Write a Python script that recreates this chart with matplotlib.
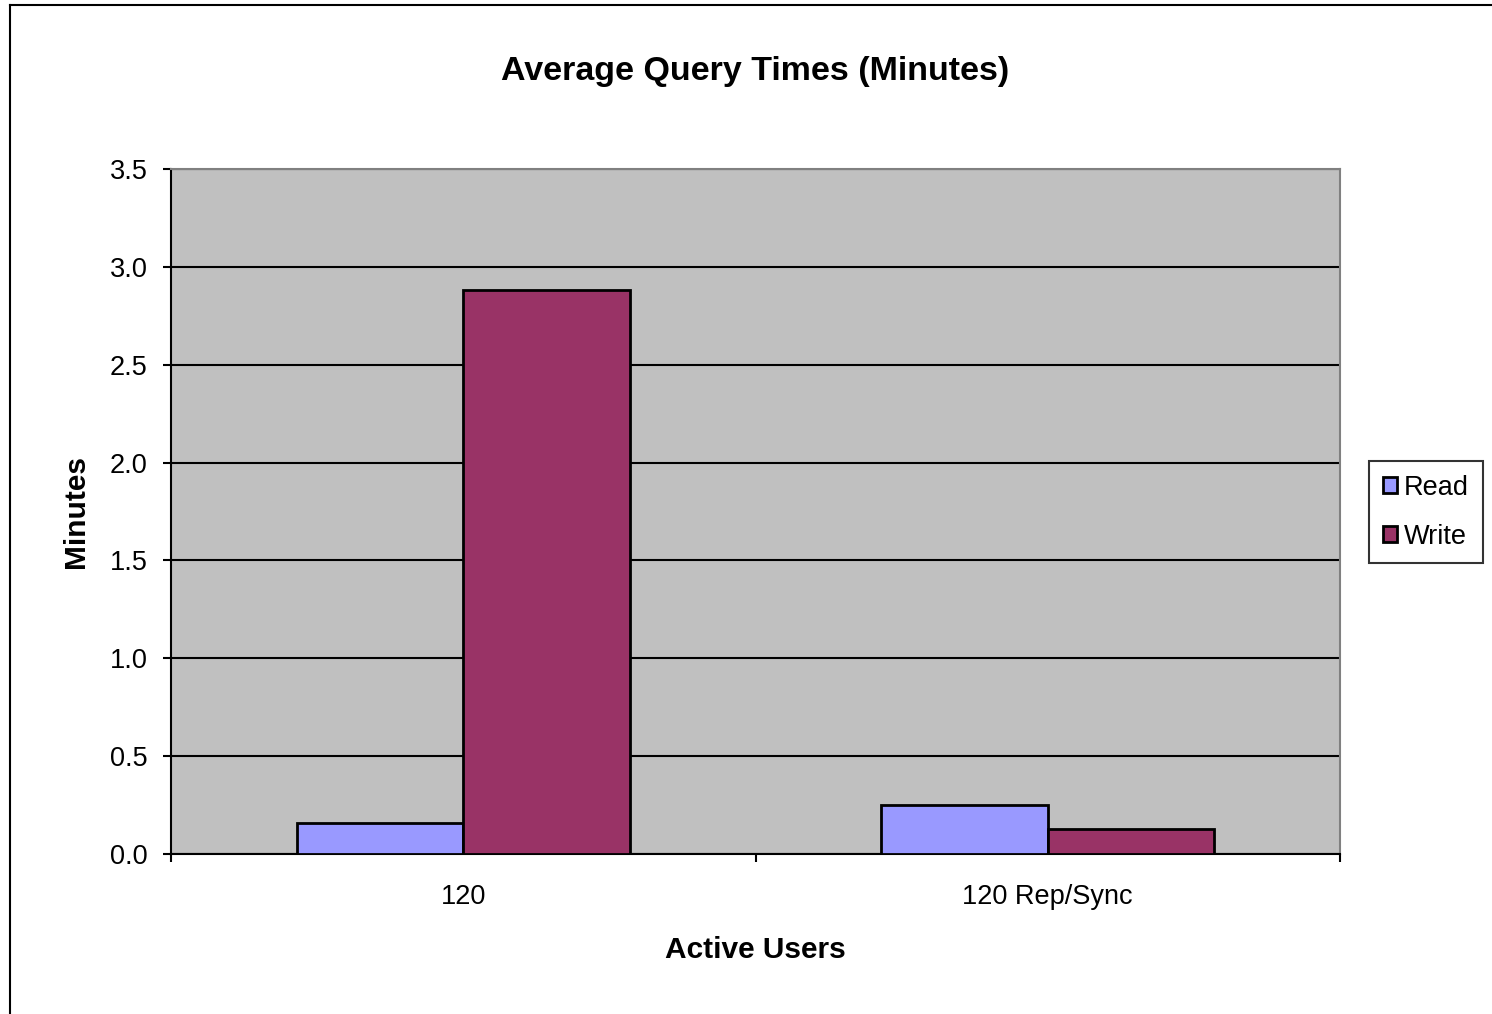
import numpy as np
import matplotlib
matplotlib.use("Agg")
import matplotlib.pyplot as plt
from matplotlib.lines import Line2D

# data
categories = ["120", "120 Rep/Sync"]
series_names = ["Read", "Write"]
read_minutes = [0.16, 0.25]
write_minutes = [2.88, 0.13]
y_ticks = [0.0, 0.5, 1.0, 1.5, 2.0, 2.5, 3.0, 3.5]

COLORS = ["#9999FF", "#993366"]

plt.rcParams["font.family"] = ["Liberation Sans", "DejaVu Sans"]

fig = plt.figure(figsize=(14.92, 10.14), dpi=100)
ax = fig.add_axes([171 / 1492, 160 / 1014, 1169 / 1492, 685 / 1014])
ax.set_facecolor("#C0C0C0")

x = np.arange(len(categories))
width = 0.285
for i, (vals, name) in enumerate(zip([read_minutes, write_minutes], series_names)):
    ax.bar(x + (i - 0.5) * width, vals, width, color=COLORS[i],
           edgecolor="black", linewidth=2, label=name, zorder=3)

ax.set_xlim(-0.5, len(categories) - 0.5)
ax.set_ylim(0, 3.5)
ax.set_yticks(y_ticks)
ax.set_yticklabels([f"{v:.1f}" for v in y_ticks], fontsize=19.5)
ax.yaxis.grid(True, color="black", linewidth=1.5, zorder=1)
ax.tick_params(axis="y", length=6, width=1.5, pad=11)

# category labels in the middle, ticks on the boundaries
ax.set_xticks(np.arange(len(categories) + 1) - 0.5)
ax.set_xticklabels([])
ax.set_xticks(x, minor=True)
ax.set_xticklabels(categories, minor=True, fontsize=19.5)
ax.tick_params(axis="x", which="major", length=6, width=1.5)
ax.tick_params(axis="x", which="minor", length=0, pad=21.5)

for side in ["left", "bottom"]:
    ax.spines[side].set_linewidth(1.5)
for side in ["top", "right"]:
    ax.spines[side].set_color("#808080")
    ax.spines[side].set_linewidth(1.5)

ax.set_title("Average Query Times (Minutes)", fontsize=24.5, fontweight="bold",
             pad=64)
ax.set_xlabel("Active Users", fontsize=21.5, fontweight="bold", labelpad=19)
ax.set_ylabel("Minutes", fontsize=21.5, fontweight="bold", labelpad=14)

leg = fig.legend(loc="upper left", bbox_to_anchor=(1369 / 1492, 1 - 461 / 1014),
                 fontsize=19.5, frameon=True, fancybox=False, edgecolor="black",
                 handlelength=0.55, handleheight=0.55, handletextpad=0.25,
                 borderpad=0.5, labelspacing=0.85, borderaxespad=0)
leg.get_frame().set_linewidth(1.5)

# outer chart border (left and top edges visible)
fig.add_artist(Line2D([10 / 1492, 10 / 1492], [0, 1 - 5 / 1014],
                      transform=fig.transFigure, color="black", linewidth=1.5))
fig.add_artist(Line2D([10 / 1492, 1], [1 - 5 / 1014, 1 - 5 / 1014],
                      transform=fig.transFigure, color="black", linewidth=1.5))

fig.savefig("out.png", dpi=100)
